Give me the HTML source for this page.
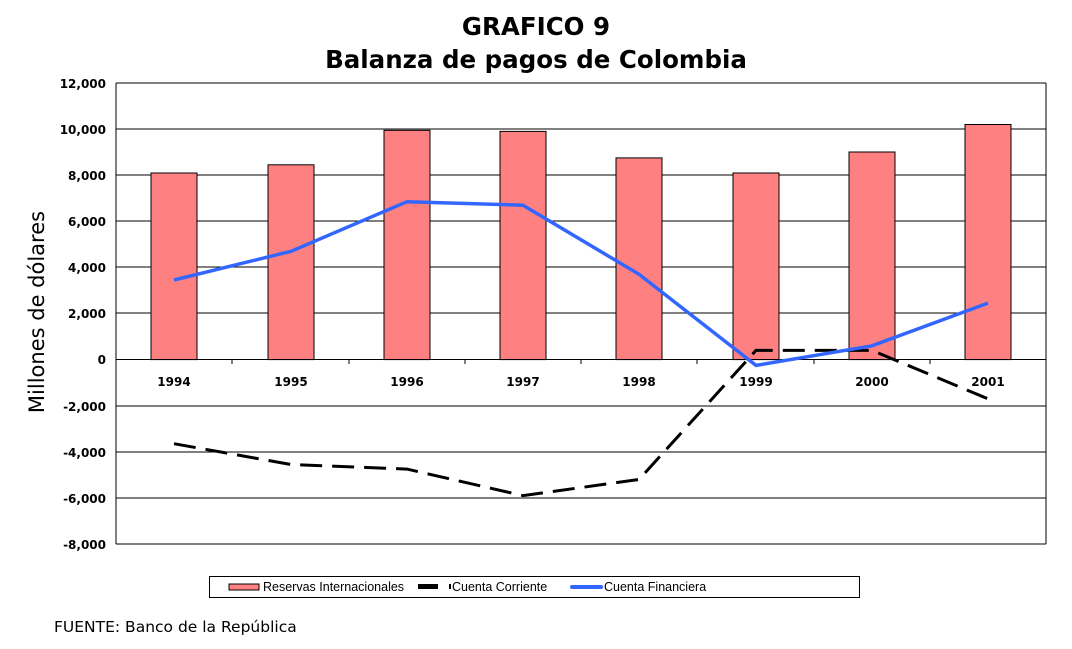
<!DOCTYPE html><html><head><meta charset="utf-8"><style>body{margin:0;background:#fff}svg{display:block}</style></head><body>
<svg width="1072" height="649" xmlns="http://www.w3.org/2000/svg" font-family="DejaVu Sans, sans-serif">
<text x="536" y="35" text-anchor="middle" font-size="24.5" font-weight="bold">GRAFICO 9</text>
<text x="536" y="68" text-anchor="middle" font-size="24.5" font-weight="bold">Balanza de pagos de Colombia</text>
<g stroke="#000" stroke-width="1">
<line x1="116" y1="83" x2="1046" y2="83"/><line x1="116" y1="129" x2="1046" y2="129"/><line x1="116" y1="175" x2="1046" y2="175"/><line x1="116" y1="221" x2="1046" y2="221"/><line x1="116" y1="267" x2="1046" y2="267"/><line x1="116" y1="313" x2="1046" y2="313"/><line x1="116" y1="406" x2="1046" y2="406"/><line x1="116" y1="452" x2="1046" y2="452"/><line x1="116" y1="498" x2="1046" y2="498"/><line x1="116" y1="544" x2="1046" y2="544"/>
<line x1="1046" y1="83" x2="1046" y2="544"/><line x1="116" y1="83" x2="116" y2="544"/>
</g>
<g font-size="12" font-weight="bold" text-anchor="end">
<text x="106" y="88">12,000</text><text x="106" y="134">10,000</text><text x="106" y="180">8,000</text><text x="106" y="226">6,000</text><text x="106" y="272">4,000</text><text x="106" y="318">2,000</text><text x="106" y="364">0</text><text x="106" y="411">-2,000</text><text x="106" y="457">-4,000</text><text x="106" y="503">-6,000</text><text x="106" y="549">-8,000</text>
</g>
<text transform="translate(44,312) rotate(-90)" text-anchor="middle" font-size="21">Millones de dólares</text>
<g fill="#ff8080" stroke="#000" stroke-width="1">
<rect x="151" y="173" width="46" height="186.6"/>
<rect x="268" y="164.8" width="46" height="194.8"/>
<rect x="384" y="130.3" width="46" height="229.3"/>
<rect x="500" y="131.4" width="46" height="228.2"/>
<rect x="616" y="157.9" width="46" height="201.7"/>
<rect x="733" y="173" width="46" height="186.6"/>
<rect x="849" y="152" width="46" height="207.6"/>
<rect x="965" y="124.5" width="46" height="235.1"/>
</g>
<line x1="116" y1="359.5" x2="1046" y2="359.5" stroke="#000"/>
<g stroke="#000"><line x1="232" y1="359" x2="232" y2="364"/><line x1="349" y1="359" x2="349" y2="364"/><line x1="465" y1="359" x2="465" y2="364"/><line x1="581" y1="359" x2="581" y2="364"/><line x1="697" y1="359" x2="697" y2="364"/><line x1="814" y1="359" x2="814" y2="364"/><line x1="930" y1="359" x2="930" y2="364"/></g>
<g font-size="12" font-weight="bold" text-anchor="middle">
<text x="174" y="386">1994</text><text x="291" y="386">1995</text><text x="407" y="386">1996</text><text x="523" y="386">1997</text><text x="639" y="386">1998</text><text x="756" y="386">1999</text><text x="872" y="386">2000</text><text x="988" y="386">2001</text>
</g>
<polyline fill="none" stroke="#000" stroke-width="3" stroke-dasharray="22,10" points="174,443.7 291,464.5 407,469.1 523,495.6 639,479.5 756,350.4 872,350.4 988,398.8"/>
<polyline fill="none" stroke="#3366ff" stroke-width="3.5" points="174,280 291,251.3 407,201.7 523,205.2 639,274.3 756,365.4 872,345.8 988,303.1"/>
<rect x="209.5" y="576.5" width="650" height="21" fill="#fff" stroke="#000"/>
<rect x="229" y="584" width="30" height="6" fill="#ff8080" stroke="#000"/>
<g font-family="Liberation Sans, sans-serif" font-size="12.5">
<text x="263" y="591">Reservas Internacionales</text>
<text x="452" y="591">Cuenta Corriente</text>
<text x="604" y="591">Cuenta Financiera</text>
</g>
<rect x="418" y="584" width="20" height="5" fill="#000"/><rect x="449" y="584" width="2" height="5" fill="#000"/>
<rect x="570" y="585" width="33" height="4" rx="2" fill="#3366ff"/>
<text x="54" y="632" font-size="15.5">FUENTE: Banco de la República</text>
</svg>
</body></html>
